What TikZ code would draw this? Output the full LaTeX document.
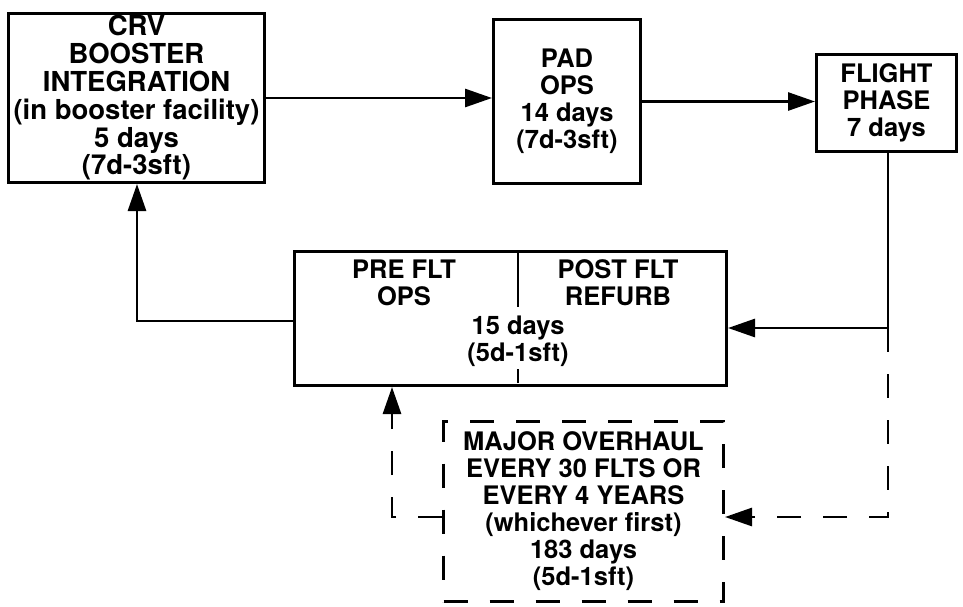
\documentclass[tikz,border=0pt]{standalone}
\usepackage{fontspec}
\setmainfont{TeX Gyre Heros}
\usetikzlibrary{arrows.meta,positioning,calc}

\begin{document}
\begin{tikzpicture}[x=1pt,y=-1pt,>={Triangle[length=27pt,width=18pt]},
  box/.style={draw,line width=3pt,align=center,inner sep=0pt,font=\bfseries\fontsize{25.5}{27}\selectfont},
  txt/.style={align=center,inner sep=0pt,font=\bfseries\fontsize{25.5}{27}\selectfont},
  link/.style={line width=2.8pt},
  dashlink/.style={line width=2.8pt,dash pattern=on 24pt off 22pt}]
\useasboundingbox (0,0) rectangle (963,606);
\node[box,minimum width=256pt,minimum height=169pt,font=\bfseries\fontsize{27.5}{27.8}\selectfont] (crv) at (136.5,98) {CRV\\BOOSTER\\INTEGRATION\\(in booster facility)\\5 days\\(7d-3sft)};
\node[box,minimum width=147pt,minimum height=164pt] (pad) at (567,101.5) {PAD\\OPS\\14 days\\(7d-3sft)};
\node[box,minimum width=140pt,minimum height=97pt] (flight) at (886.5,103) {FLIGHT\\PHASE\\7 days};
\node[box,minimum width=432pt,minimum height=134pt] (pre) at (510.5,318.5) {};
\node[txt] (preops) at (404,283) {PRE FLT\\OPS};
\node[txt] (postref) at (618,283) {POST FLT\\REFURB};
\node[txt] (predays) at (518,341) {15 days\\(5d-1sft)};
\draw[link] (pre.north -| predays) -- ++(0,57);
\draw[link] (pre.south -| predays) ++(0,-4) -- ++(0,-14);
\node[box,dashlink,line width=3pt,minimum width=280pt,minimum height=180pt] (major) at (583.5,511.5) {MAJOR OVERHAUL\\EVERY 30 FLTS OR\\EVERY 4 YEARS\\(whichever first)\\183 days\\(5d-1sft)};
% solid flow
\draw[link,->] (crv.east) -- (crv.east -| pad.west);
\draw[link,->] (pad.east) -- (pad.east -| flight.west);
\coordinate (fj) at (888,328);
\coordinate (lj) at (137,321);
\draw[link,->] (flight.south -| fj) -- (fj) -- (fj -| pre.east);
\draw[link,->] (lj -| pre.west) -- (lj) -- (crv.south -| lj);
% overhaul loop
\coordinate (dr) at (888,517);
\coordinate (dl) at (392,517);
\draw[dashlink,->] (fj) -- (dr) -- (dr -| major.east);
\draw[dashlink,->] (dl -| major.west) -- (dl) -- (dl |- pre.south);
\end{tikzpicture}
\end{document}
